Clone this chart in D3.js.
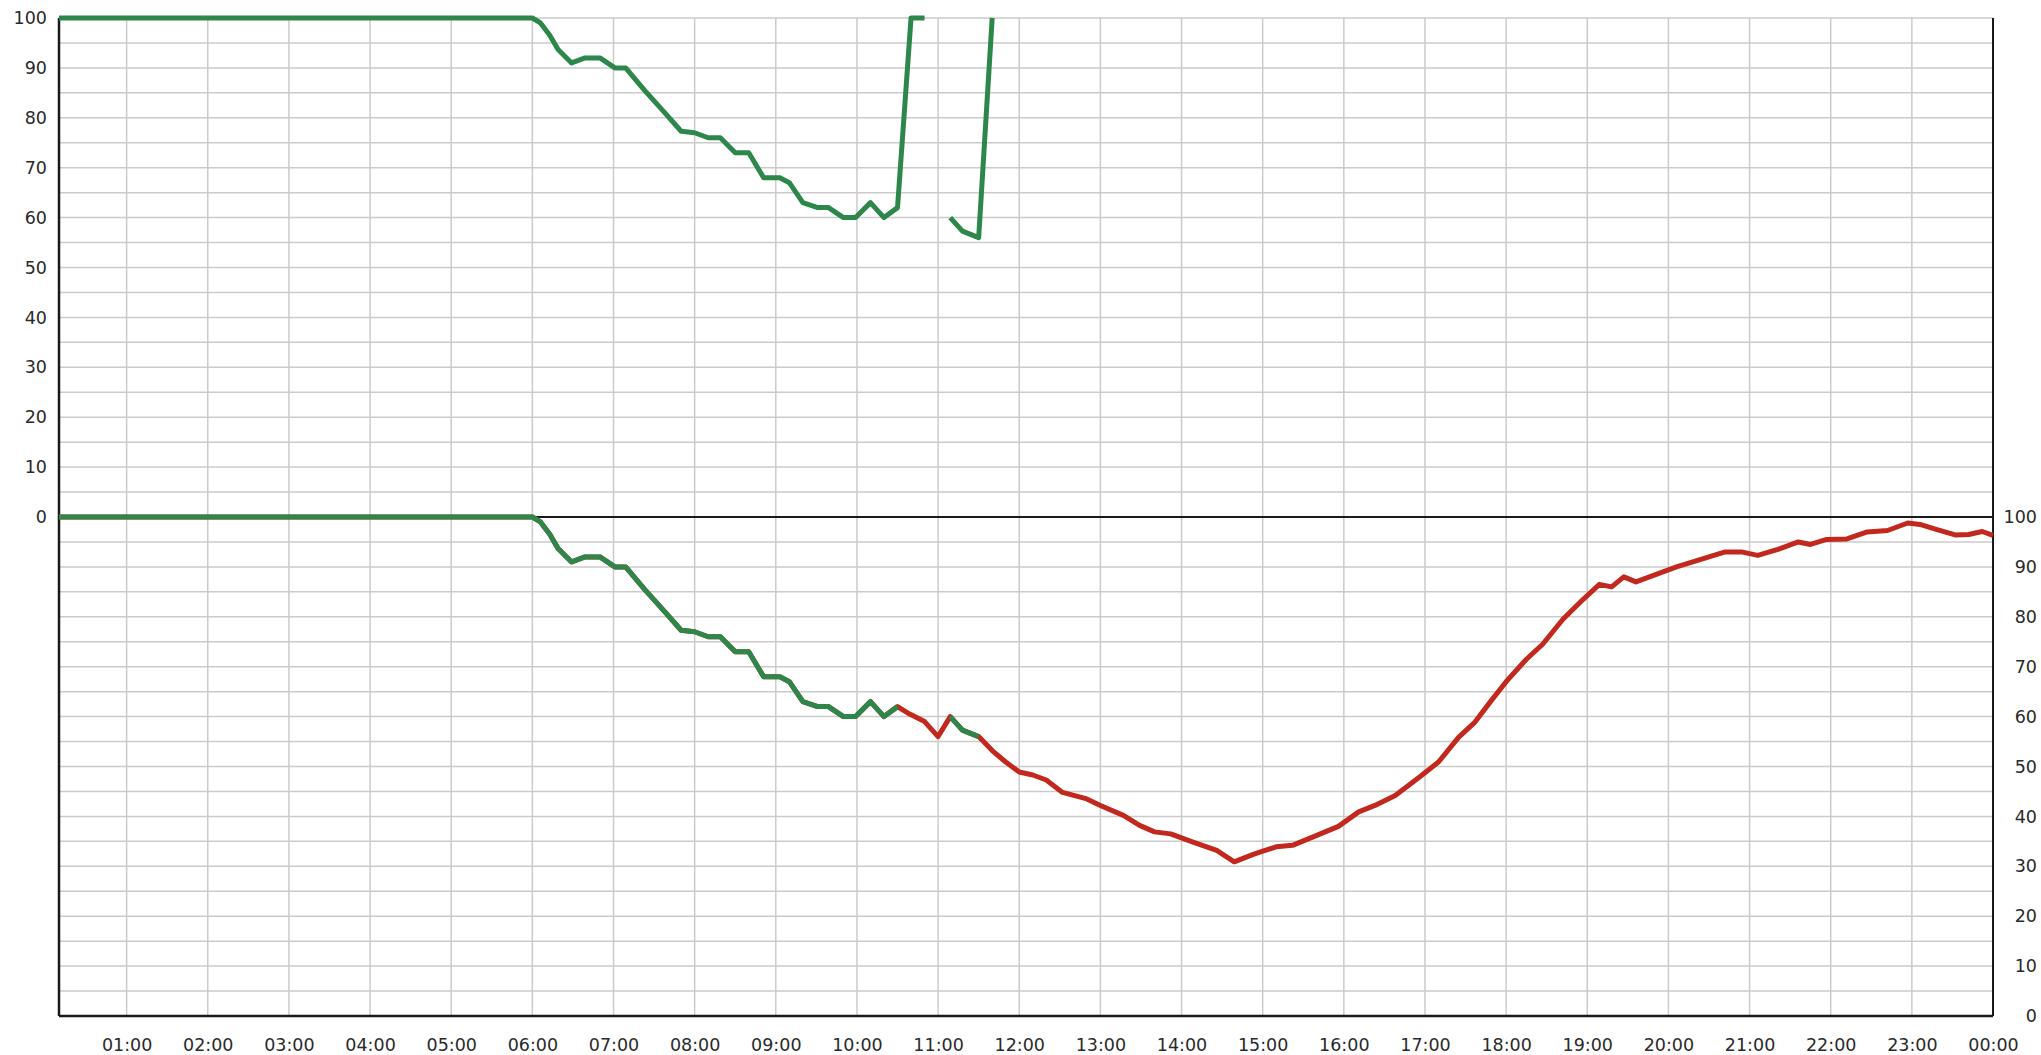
<!DOCTYPE html>
<html>
<head>
<meta charset="utf-8">
<script src="https://cdn.jsdelivr.net/npm/d3@7"></script>
<style>
  body { margin: 0; background: #fff; }
  text { font-family: "DejaVu Sans", Verdana, sans-serif; font-size: 17px; fill: #2a2a2a; }
</style>
</head>
<body>
<div id="chart"></div>
<script>
// hour ticks along the bottom
var hourLabels = ["01:00","02:00","03:00","04:00","05:00","06:00","07:00","08:00","09:00","10:00","11:00","12:00",
                  "13:00","14:00","15:00","16:00","17:00","18:00","19:00","20:00","21:00","22:00","23:00","00:00"];
var valueTicks = [0, 10, 20, 30, 40, 50, 60, 70, 80, 90, 100];

// lower panel (right axis): full day series
var lowerTimes = ["00:10","06:00","06:06","06:13","06:19","06:29","06:39","06:50","07:01","07:09","07:23","07:38","07:50",
                  "08:00","08:10","08:19","08:30","08:40","08:51","09:03","09:10","09:20","09:31","09:39","09:50","09:59",
                  "10:10","10:20","10:30","10:39","10:50","11:00","11:09","11:18","11:30","11:40","11:50","12:00","12:10",
                  "12:20","12:32","12:50","13:00","13:17","13:29","13:40","13:52","14:08","14:26","14:39","14:53","15:10",
                  "15:22","15:40","15:56","16:11","16:23","16:38","16:56","17:10","17:25","17:37","17:49","18:00","18:15",
                  "18:27","18:42","18:57","19:09","19:18","19:27","19:36","19:51","20:06","20:24","20:42","20:54","21:06",
                  "21:21","21:36","21:45","21:57","22:12","22:27","22:42","22:57","23:06","23:18","23:32","23:42","23:52","24:00"];
var lowerValues = [100,100,99,96.5,93.7,91,92,92,90,90,85.5,81,77.3,
                   77,76,76,73,73,68,68,67,63,62,62,60,60,
                   63,60,62,60.5,59,56,60,57.3,56,53.2,50.9,48.9,48.3,
                   47.3,44.8,43.5,42.2,40.2,38.2,36.9,36.5,34.9,33.2,30.9,32.4,33.9,
                   34.2,36.2,38,40.9,42.2,44.2,47.9,50.9,55.9,58.9,63.2,67,71.5,
                   74.5,79.5,83.5,86.5,86,88,87,88.5,90,91.5,93,93,92.3,
                   93.5,95,94.5,95.5,95.6,97,97.3,98.8,98.5,97.5,96.4,96.5,97.1,96.3];
// parts of the lower series drawn green, the rest is red
var greenSpans = [["00:10","10:30"], ["11:09","11:30"]];

// upper panel (left axis): green series only, clipped at 100, null = gap
var upperTimes = ["00:10","06:00","06:06","06:13","06:19","06:29","06:39","06:50","07:01","07:09","07:23","07:38","07:50",
                  "08:00","08:10","08:19","08:30","08:40","08:51","09:03","09:10","09:20","09:31","09:39","09:50","09:59",
                  "10:10","10:20","10:30","10:40","10:50","11:00","11:09","11:18","11:30","11:40"];
var upperValues = [100,100,99,96.5,93.7,91,92,92,90,90,85.5,81,77.3,
                   77,76,76,73,73,68,68,67,63,62,62,60,60,
                   63,60,62,100,100,null,60,57.3,56,100];

(function () {
    var width = 2041, height = 1055;
    var plotLeft = 59, plotRight = 1993, plotTop = 18, plotBottom = 1016;
    var mid = (plotTop + plotBottom) / 2;
    var green = "#2d874b", red = "#c2281d";

    function toMin(s) {
        var p = s.split(":");
        return +p[0] * 60 + +p[1];
    }

    var x = d3.scaleLinear().domain([10, 1440]).range([plotLeft, plotRight]);
    var yUp = d3.scaleLinear().domain([0, 100]).range([mid, plotTop]);
    var yLow = d3.scaleLinear().domain([0, 100]).range([plotBottom, mid]);

    var svg = d3.select("#chart").append("svg")
        .attr("width", width)
        .attr("height", height);

    // horizontal grid, every 5 units in both halves
    var gridVals = d3.range(0, 101, 5);
    var grid = svg.append("g").attr("stroke", "#cbcbcb").attr("stroke-width", 1.5);
    grid.selectAll("line.hu").data(gridVals).enter().append("line")
        .attr("x1", plotLeft).attr("x2", plotRight)
        .attr("y1", function (d) { return yUp(d); })
        .attr("y2", function (d) { return yUp(d); });
    grid.selectAll("line.hl").data(gridVals).enter().append("line")
        .attr("x1", plotLeft).attr("x2", plotRight)
        .attr("y1", function (d) { return yLow(d); })
        .attr("y2", function (d) { return yLow(d); });

    // vertical grid at every hour
    grid.selectAll("line.v").data(hourLabels.slice(0, -1)).enter().append("line")
        .attr("x1", function (d) { return x(toMin(d)); })
        .attr("x2", function (d) { return x(toMin(d)); })
        .attr("y1", plotTop).attr("y2", plotBottom);

    // frame and middle line
    var frame = svg.append("g").attr("stroke", "#1a1a1a").attr("fill", "none");
    frame.append("line").attr("x1", plotLeft).attr("x2", plotLeft).attr("y1", plotTop).attr("y2", plotBottom).attr("stroke-width", 2.5);
    frame.append("line").attr("x1", plotRight).attr("x2", plotRight).attr("y1", plotTop).attr("y2", plotBottom).attr("stroke-width", 2);
    frame.append("line").attr("x1", plotLeft).attr("x2", plotRight).attr("y1", plotBottom).attr("y2", plotBottom).attr("stroke-width", 2.5);
    frame.append("line").attr("x1", plotLeft).attr("x2", plotRight).attr("y1", mid).attr("y2", mid).attr("stroke-width", 1.8);

    // axes
    var xAxis = d3.axisBottom(x)
        .tickValues(hourLabels.map(function (d, i) { return (i + 1) * 60; }))
        .tickFormat(function (d, i) { return hourLabels[i]; })
        .tickSize(0).tickPadding(23);
    svg.append("g").attr("transform", "translate(0," + plotBottom + ")").call(xAxis)
        .call(function (g) { g.select(".domain").remove(); })
        .selectAll("text").attr("fill", "#2a2a2a").style("font-size", "17.5px");

    var yAxisL = d3.axisLeft(yUp).tickValues(valueTicks).tickSize(0).tickPadding(12);
    svg.append("g").attr("transform", "translate(" + plotLeft + ",0)").call(yAxisL)
        .call(function (g) { g.select(".domain").remove(); })
        .selectAll("text").attr("fill", "#2a2a2a").style("font-size", "17.5px");

    var yAxisR = d3.axisRight(yLow).tickValues(valueTicks).tickSize(0).tickPadding(12);
    svg.append("g").attr("transform", "translate(" + plotRight + ",0)").call(yAxisR)
        .call(function (g) { g.select(".domain").remove(); })
        .selectAll("text").attr("fill", "#2a2a2a").style("font-size", "17.5px")
        .attr("text-anchor", "end").attr("x", 2037 - plotRight);

    // lines
    var lowerData = lowerTimes.map(function (t, i) { return { t: toMin(t), v: lowerValues[i] }; });
    var upperData = upperTimes.map(function (t, i) { return { t: toMin(t), v: upperValues[i] }; });

    var lowLine = d3.line()
        .x(function (d) { return x(d.t); })
        .y(function (d) { return yLow(d.v); });
    var upLine = d3.line()
        .defined(function (d) { return d.v !== null; })
        .x(function (d) { return x(d.t); })
        .y(function (d) { return yUp(d.v); });

    var lines = svg.append("g").attr("fill", "none")
        .attr("stroke-width", 5).attr("stroke-linejoin", "round").attr("stroke-linecap", "butt");

    lines.append("path").datum(lowerData)
        .attr("stroke", red).attr("d", lowLine);

    greenSpans.forEach(function (s) {
        var a = toMin(s[0]), b = toMin(s[1]);
        lines.append("path")
            .datum(lowerData.filter(function (d) { return d.t >= a && d.t <= b; }))
            .attr("stroke", green).attr("d", lowLine);
    });

    lines.append("path").datum(upperData)
        .attr("stroke", green).attr("d", upLine);
})();
</script>
</body>
</html>
